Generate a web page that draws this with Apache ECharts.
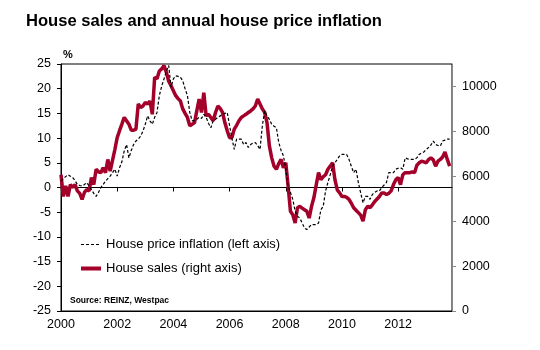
<!DOCTYPE html>
<html>
<head>
<meta charset="utf-8">
<script src="https://cdn.jsdelivr.net/npm/echarts@6/dist/echarts.min.js"></script>
<style>
html,body{margin:0;padding:0;background:#fff;}
#chart{width:540px;height:350px;}
</style>
</head>
<body>
<div id="chart"></div>
<script>
// Monthly categories Jan 2000 .. Dec 2013
const startYear = 2000, endYear = 2013;
const months = [];
for (let y = startYear; y <= endYear; y++) {
  for (let m = 1; m <= 12; m++) months.push(y + '-' + (m < 10 ? '0' + m : m));
}
const xTickLabels = ['2000', '2002', '2004', '2006', '2008', '2010', '2012'];
const rightTicks = [0, 2000, 4000, 6000, 8000, 10000];

// House price inflation, % y/y (left axis), Jan 2000 .. Nov 2013
const priceInflation = [
  1.3, 1.8, 2.2, 2.6, 2.3, 2.0, 1.4, 0.6, 0.4, 0.3, 0.6, 1.0,
  0.3, -0.4, -1.2, -1.8, -1.0, 0.0, 0.6, 1.3, 1.8, 2.3, 3.0, 3.7,
  2.3, 4.0, 5.2, 7.4, 8.7, 6.0, 7.5, 8.7, 9.4, 9.8, 10.4, 11.4,
  12.8, 14.5, 13.5, 12.8, 14.2, 15.2, 18.6, 20.5, 22.0, 23.5, 24.7, 20.3,
  22.0, 22.6, 22.5, 22.3, 21.6, 20.0, 18.6, 15.2, 13.5, 13.6, 13.8, 14.2,
  14.0, 14.8, 14.2, 13.0, 12.1, 13.5, 13.8, 14.2, 14.5, 14.8, 15.0, 15.2,
  12.5, 10.0, 7.7, 9.8, 9.8, 9.8, 8.7, 9.1, 8.1, 8.7, 9.0, 9.1,
  8.5, 7.7, 12.5, 15.5, 14.5, 13.8, 12.8, 12.4, 12.1, 9.1, 7.5, 6.4,
  3.7, 0.3, -1.0, -2.4, -4.8, -5.8, -6.2, -7.2, -8.2, -8.5, -8.0, -7.5,
  -7.5, -7.5, -7.2, -4.5, -3.8, -0.7, 1.0, 2.6, 4.3, 5.0, 5.7, 6.4,
  6.7, 6.7, 6.7, 5.7, 4.3, 3.0, 3.7, 1.0, -1.1, -3.1, -1.8, -1.8,
  -2.4, -1.4, -1.0, -0.7, -0.7, 0.0, 0.5, 1.0, 3.0, 3.0, 3.0, 3.7,
  3.9, 4.0, 3.7, 6.0, 5.8, 5.7, 5.7, 5.7, 6.0, 6.7, 7.0, 7.2,
  7.7, 8.1, 8.6, 9.4, 8.7, 8.5, 8.4, 9.4, 9.6, 9.8, 9.8
];

// House sales, monthly count (right axis), Jan 2000 .. Nov 2013
const houseSales = [
  6070, 5100, 5570, 5100, 5630, 5500, 5630, 5350, 5240, 4970, 5280, 5410,
  5350, 5940, 5630, 6310, 6200, 6160, 6380, 6160, 6750, 6230, 6710, 7190,
  7720, 8030, 8320, 8620, 8470, 8320, 8050, 8050, 8100, 9220, 9060, 9130,
  9280, 9220, 9350, 8760, 10410, 10340, 10690, 10780, 10930, 10630, 10230, 10030,
  9810, 9590, 9460, 9350, 9000, 8800, 8620, 8250, 8320, 8380, 8910, 9440,
  8840, 9720, 8690, 8760, 8620, 8470, 8840, 9130, 9020, 8840, 8380, 8030,
  7720, 7720, 8100, 8270, 8470, 8620, 8690, 8760, 8840, 8910, 9000, 9130,
  9440, 9220, 9000, 8840, 8380, 7350, 6820, 6450, 6310, 6560, 6750, 6380,
  6600, 5570, 4440, 4290, 3920, 4600, 4660, 4580, 4510, 4440, 4140, 4660,
  5040, 5610, 6160, 5850, 5980, 6070, 6310, 6450, 6600, 5850, 5390, 5260,
  5100, 5100, 5060, 4970, 4800, 4600, 4490, 4380, 4270, 4000, 4510, 4660,
  4600, 4730, 4880, 4990, 5100, 5260, 5260, 5190, 5240, 5350, 5630, 5850,
  5940, 5630, 6070, 6160, 6160, 6160, 6200, 6160, 6490, 6600, 6670, 6640,
  6600, 6750, 6820, 6730, 6450, 6670, 6750, 6860, 7080, 6750, 6450
];

const seriesNames = ['House price inflation (left axis)', 'House sales (right axis)'];
const titleText = 'House sales and annual house price inflation';
const sourceText = 'Source: REINZ, Westpac';

const FONT = '"Liberation Sans", Arial, sans-serif';
const RED = '#A3002A';
const isMajor = (idx, val) => val.slice(5) === '01' && xTickLabels.indexOf(val.slice(0, 4)) >= 0;

const chart = echarts.init(document.getElementById('chart'), null, {renderer: 'canvas'});
chart.setOption({
  animation: false,
  backgroundColor: '#fff',
  textStyle: {fontFamily: FONT, color: '#000'},
  title: {
    text: titleText, left: 21, top: 8,
    textStyle: {fontFamily: FONT, fontSize: 16.6, fontWeight: 'bold', color: '#000'}
  },
  grid: {left: 61, right: 88, top: 64, bottom: 39, show: true, borderColor: '#000', borderWidth: 1, containLabel: false},
  legend: {
    orient: 'vertical', left: 74, top: 233, itemWidth: 20, itemHeight: 14, itemGap: 11,
    data: [
      {name: seriesNames[0], lineStyle: {width: 1.2, color: '#000', type: [3, 2]}},
      {name: seriesNames[1], lineStyle: {width: 4, color: RED}}
    ],
    itemStyle: {opacity: 0},
    textStyle: {fontFamily: FONT, fontSize: 13, color: '#000'}
  },
  xAxis: [
    {
      type: 'category', data: months, boundaryGap: false, position: 'bottom',
      axisLine: {show: true, onZero: false, lineStyle: {color: '#000', width: 1}},
      axisTick: {show: false},
      axisLabel: {interval: isMajor, formatter: v => v.slice(0, 4), fontSize: 12.5, color: '#000', margin: 7, fontFamily: FONT},
      splitLine: {show: false}
    },
    {
      type: 'category', data: months, boundaryGap: false, position: 'bottom',
      axisLine: {show: true, onZero: true, onZeroAxisIndex: 0, lineStyle: {color: '#000', width: 1}},
      axisTick: {show: true, interval: isMajor, length: 4, lineStyle: {color: '#000'}},
      axisLabel: {show: false},
      splitLine: {show: false}
    }
  ],
  yAxis: [
    {
      type: 'value', min: -25, max: 25, interval: 5, position: 'left',
      name: '%', nameLocation: 'end', nameGap: 4,
      nameTextStyle: {align: 'left', fontSize: 11, fontWeight: 'bold', color: '#000', padding: [0, 0, 0, 2], fontFamily: FONT},
      axisLine: {show: true, lineStyle: {color: '#000', width: 1}},
      axisTick: {show: true, length: 4, lineStyle: {color: '#000'}},
      axisLabel: {fontSize: 12.5, color: '#000', margin: 10, fontFamily: FONT},
      splitLine: {show: false}
    },
    {
      type: 'value', min: 0, max: 11000, position: 'right',
      axisLine: {show: true, lineStyle: {color: '#888', width: 1}},
      axisTick: {show: true, length: 4, customValues: rightTicks, lineStyle: {color: '#888'}},
      axisLabel: {customValues: rightTicks, formatter: v => String(v), fontSize: 12.5, color: '#000', margin: 10, fontFamily: FONT},
      splitLine: {show: false}
    }
  ],
  series: [
    {
      name: seriesNames[1], type: 'line', xAxisIndex: 0, yAxisIndex: 1, data: houseSales,
      symbol: 'none', showSymbol: false,
      lineStyle: {color: RED, width: 3.5}, itemStyle: {color: RED}, z: 2
    },
    {
      name: seriesNames[0], type: 'line', xAxisIndex: 0, yAxisIndex: 0, data: priceInflation,
      symbol: 'none', showSymbol: false,
      lineStyle: {color: '#000', width: 1.2, type: [3, 2]}, itemStyle: {color: '#000'}, z: 3
    }
  ],
  graphic: [
    {type: 'text', left: 70, top: 296, style: {text: sourceText, font: 'bold 8.5px ' + FONT, fill: '#000'}}
  ]
});
</script>
</body>
</html>
